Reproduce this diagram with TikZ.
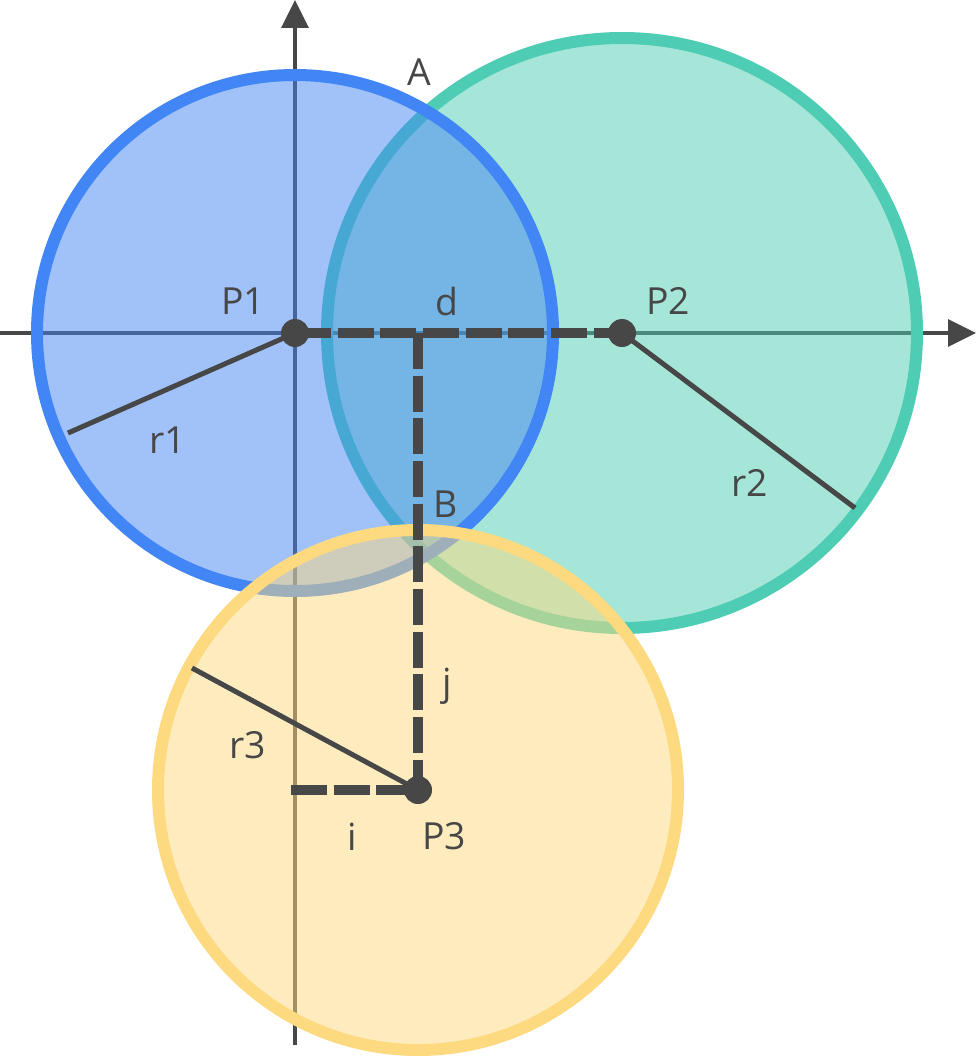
\documentclass[tikz,border=0pt]{standalone}
\usepackage{fontspec}
\setmainfont{Open Sans}
\usetikzlibrary{arrows.meta}
\definecolor{inkgray}{HTML}{474747}
\definecolor{circblue}{HTML}{4285F4}
\definecolor{circgreen}{HTML}{4ECDB4}
\definecolor{circyellow}{HTML}{FDD97F}
\begin{document}
\begin{tikzpicture}
[x=0.75pt,y=-0.75pt,%
  every node/.style={text=inkgray,inner sep=0pt},%
  axis/.style={draw=inkgray,line width=3pt,-{Triangle[length=21pt,width=20pt]}},%
  ring/.style={line width=9pt,fill opacity=0.5},%
  spoke/.style={draw=inkgray,line width=3.75pt},%
  gap/.style={draw=inkgray,line width=7.5pt,dash pattern=on 27pt off 5pt},%
  centre/.style={circle,fill=inkgray,minimum size=21pt}]
\useasboundingbox (0,0) rectangle (976,1056);
\fontsize{28}{34}\selectfont
% axes under the discs
\coordinate (xl) at (0,333);
\coordinate (xr) at (976,333);
\coordinate (yb) at (295,1045);
\coordinate (yt) at (295,0);
\draw[axis] (xl) -- (xr);
\draw[axis] (yb) -- (yt);
% discs
\draw[ring,draw=circgreen,fill=circgreen] (622,333) circle [radius=295];
\draw[ring,draw=circblue,fill=circblue] (295,333) circle [radius=258];
\draw[ring,draw=circyellow,fill=circyellow] (418,790) circle [radius=260];
% centres and feet
\coordinate (F1) at (418,333);
\coordinate (F3) at (291,790);
\coordinate (E1) at (68,433);
\coordinate (E2) at (855,508);
\coordinate (E3) at (192,668);
\draw[spoke] (295,333) -- (E1);
\draw[spoke] (622,333) -- (E2);
\draw[spoke] (418,790) -- (E3);
\draw[gap] (295,333) -- (622,333);
\draw[gap] (F1) -- (418,790);
\draw[gap] (F3) -- (418,790);
\node[centre] (P1) at (295,333) {};
\node[centre] (P2) at (622,333) {};
\node[centre] (P3) at (418,790) {};
% labels
\node (lA) at (419,72) {A};
\node (lB) at (446,504) {B};
\node (lP1) at (243,301) {P1};
\node (ld) at (447,301) {d};
\node (lP2) at (668,301) {P2};
\node (lr1) at (168,440) {r1};
\node (lr2) at (750,483) {r2};
\node (lj) at (447,686) {j};
\node (lr3) at (248,745) {r3};
\node (li) at (352,837) {i};
\node (lP3) at (444,836) {P3};
\end{tikzpicture}
\end{document}
